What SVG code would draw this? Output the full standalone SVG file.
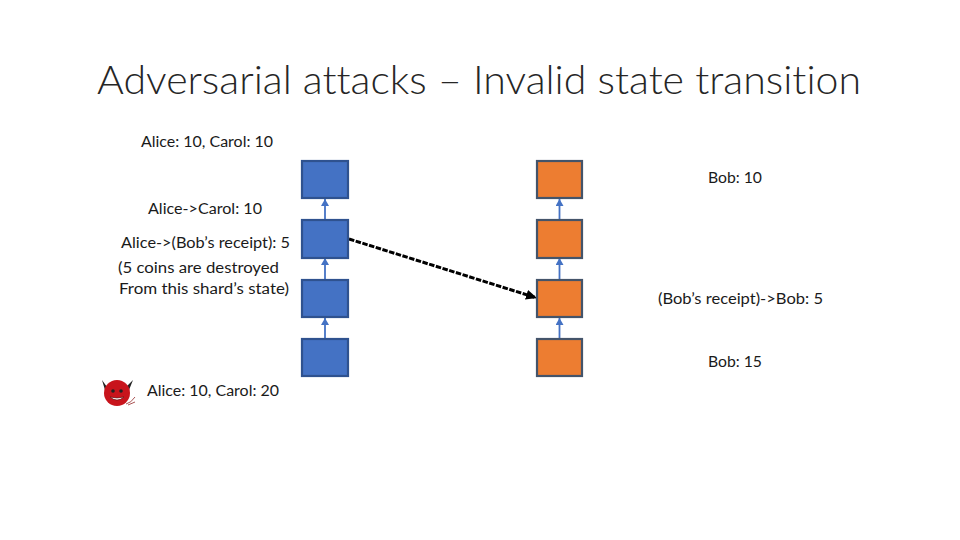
<svg xmlns="http://www.w3.org/2000/svg" width="960" height="540" viewBox="0 0 960 540">
<style>
text{font-family:Lato,"Open Sans","Liberation Sans",sans-serif;fill:#1a1a1a;font-size:14.5px;font-variant-ligatures:none}
.title{font-size:40px;font-weight:300;fill:#262626}
.b{fill:#4472c4;stroke:#2f528f;stroke-width:2.200}
.o{fill:#ed7d31;stroke:#44546a;stroke-width:2.200}
.c{stroke:#4472c4;stroke-width:1.800;fill:none;marker-end:url(#u)}
</style>
<defs>
<marker id="u" markerUnits="userSpaceOnUse" markerWidth="8" markerHeight="8" refX="7" refY="4" orient="auto"><path d="M0 0L7 4L0 8Z" fill="#4472c4"/></marker>
<marker id="k" markerUnits="userSpaceOnUse" markerWidth="12" markerHeight="10" refX="11" refY="5" orient="auto"><path d="M0 0L11 5L0 10Z" fill="#000"/></marker>
</defs>
<rect width="960" height="540" fill="#fff"/>
<text class="title" x="97" y="94" textLength="764" lengthAdjust="spacingAndGlyphs">Adversarial attacks – Invalid state transition</text>
<g id="connectors">
<path class="c" d="M325 220V199"/><path class="c" d="M325 279V258"/><path class="c" d="M325 339V318"/>
<path class="c" d="M559.500 220V199"/><path class="c" d="M559.500 279V258"/><path class="c" d="M559.500 339V318"/>
<path d="M349 239L537 298" stroke="#000" stroke-width="3" stroke-dasharray="5.500 1.500" fill="none" marker-end="url(#k)"/>
</g>
<g id="node-a1"><rect class="b" x="302" y="161" width="46" height="37"/></g>
<g id="node-a2"><rect class="b" x="302" y="220" width="46" height="38"/></g>
<g id="node-a3"><rect class="b" x="302" y="280" width="46" height="37"/></g>
<g id="node-a4"><rect class="b" x="302" y="339" width="46" height="37"/></g>
<g id="node-b1"><rect class="o" x="537" y="161" width="45" height="37"/></g>
<g id="node-b2"><rect class="o" x="537" y="220" width="45" height="38"/></g>
<g id="node-b3"><rect class="o" x="537" y="280" width="45" height="37"/></g>
<g id="node-b4"><rect class="o" x="537" y="339" width="45" height="37"/></g>
<g id="labels">
<text x="141" y="147" textLength="132" lengthAdjust="spacingAndGlyphs">Alice: 10, Carol: 10</text>
<text x="148" y="214" textLength="114" lengthAdjust="spacingAndGlyphs">Alice-&gt;Carol: 10</text>
<text x="121" y="248" textLength="169" lengthAdjust="spacingAndGlyphs">Alice-&gt;(Bob’s receipt): 5</text>
<text x="118" y="273" textLength="161" lengthAdjust="spacingAndGlyphs">(5 coins are destroyed</text>
<text x="119" y="294" textLength="170" lengthAdjust="spacingAndGlyphs">From this shard’s state)</text>
<text x="708" y="183" textLength="54" lengthAdjust="spacingAndGlyphs">Bob: 10</text>
<text x="658" y="304" textLength="165" lengthAdjust="spacingAndGlyphs">(Bob’s receipt)-&gt;Bob: 5</text>
<text x="708" y="367" textLength="54" lengthAdjust="spacingAndGlyphs">Bob: 15</text>
<text x="147" y="396" textLength="132" lengthAdjust="spacingAndGlyphs">Alice: 10, Carol: 20</text>
</g>
<g id="devil">
<path d="M107 387L102 380L105 390Z M126 387L133 380L129 390Z" fill="#222"/>
<circle cx="117" cy="393" r="13" fill="#c8141c"/>
<circle cx="113" cy="391" r="1.800" fill="#222"/><circle cx="121" cy="391" r="1.800" fill="#222"/>
<path d="M110 397Q117 403 124 397Q117 399 110 397Z" fill="#fff" stroke="#511" stroke-width=".6"/>
<path d="M126 404Q131 403 135 397M128 405L135 402" stroke="#a55" stroke-width="1" fill="none"/>
</g>
</svg>
